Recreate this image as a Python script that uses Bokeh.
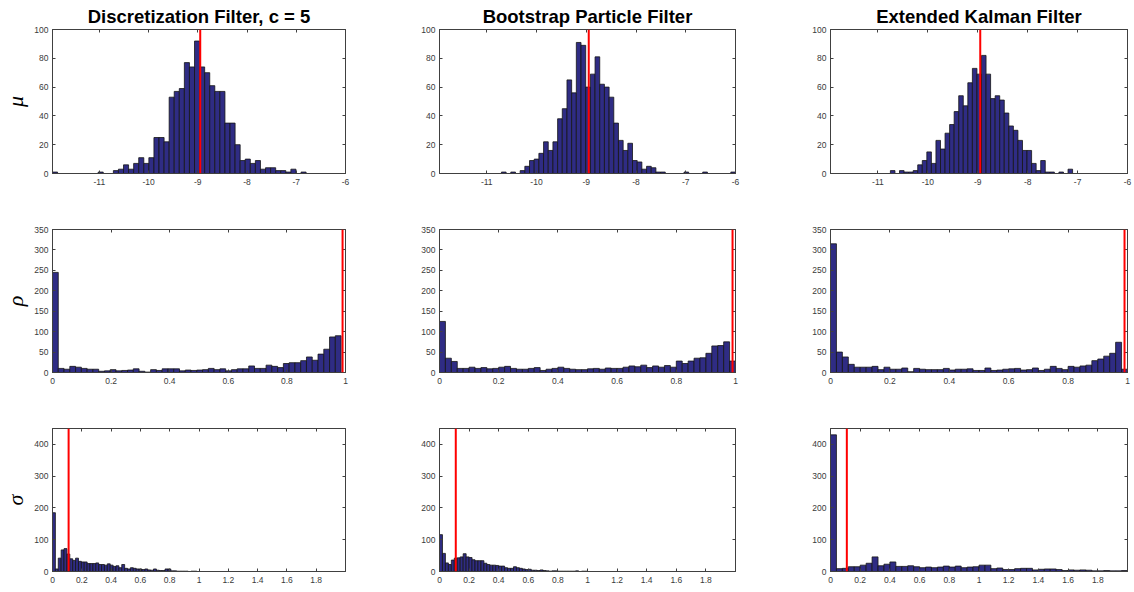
import numpy as np
from bokeh.plotting import figure
from bokeh.layouts import row, column
from bokeh.models import Range1d, FixedTicker, LinearAxis, Span, Title, CustomJSTickFormatter
from bokeh.embed import file_html
from bokeh.resources import INLINE

# ---------------- data ----------------
titles = ["Discretization Filter, c = 5", "Bootstrap Particle Filter", "Extended Kalman Filter"]
param_labels = ["μ", "ρ", "σ"]
true_values = [-8.95, 0.99, 0.11]

x_limits = [(-11.95, -6.0), (0.0, 1.0), (0.0, 2.0)]
y_limits = [(0, 100), (0, 350), (0, 450)]
x_ticks = [[-11, -10, -9, -8, -7, -6],
           [0, 0.2, 0.4, 0.6, 0.8, 1],
           [0, 0.2, 0.4, 0.6, 0.8, 1, 1.2, 1.4, 1.6, 1.8]]
x_tick_labels = [["-11", "-10", "-9", "-8", "-7", "-6"],
                 ["0", "0.2", "0.4", "0.6", "0.8", "1"],
                 ["0", "0.2", "0.4", "0.6", "0.8", "1", "1.2", "1.4", "1.6", "1.8"]]
y_ticks = [[0, 20, 40, 60, 80, 100],
           [0, 50, 100, 150, 200, 250, 300, 350],
           [0, 100, 200, 300, 400]]

# histogram ranges (min, max of samples) and bin counts
mu_df_range = (-11.95, -6.80)
mu_df_counts = [1, 0, 0, 0, 0, 0, 0, 0, 0, 1, 0, 0, 2, 3, 6, 3, 7, 11, 7, 11,
                25, 25, 22, 53, 57, 59, 77, 74, 92, 74, 70, 61, 57, 57, 35, 35, 20, 9, 10, 7,
                9, 3, 4, 4, 2, 2, 1, 3, 0, 1]
mu_pf_range = (-10.705, -6.0)
mu_pf_counts = [1, 0, 1, 0, 2, 5, 9, 10, 14, 22, 16, 22, 38, 45, 65, 56, 91, 89, 60, 69,
                81, 62, 60, 53, 35, 23, 16, 21, 9, 8, 3, 5, 4, 1, 1, 0, 0, 0, 0, 1,
                0, 0, 0, 1, 0, 0, 0, 0, 0, 1]
mu_ekf_range = (-10.75, -7.10)
mu_ekf_counts = [2, 0, 2, 1, 1, 2, 6, 9, 15, 7, 23, 17, 28, 34, 43, 54, 47, 63, 73, 69,
                 82, 69, 52, 54, 51, 42, 33, 30, 23, 16, 16, 7, 2, 9, 1, 1, 0, 1, 0, 3]

rho_df_range = (0.0, 0.985)
rho_df_counts = [245, 10, 8, 15, 13, 10, 8, 8, 3, 4, 7, 4, 5, 6, 9, 3, 1, 7, 5, 9,
                 9, 9, 4, 6, 5, 6, 7, 10, 7, 9, 4, 7, 9, 9, 16, 10, 10, 18, 15, 12,
                 22, 24, 24, 29, 38, 30, 45, 57, 87, 90]
rho_pf_range = (0.0, 1.0)
rho_pf_counts = [125, 35, 27, 10, 10, 13, 10, 12, 9, 10, 13, 15, 10, 8, 8, 10, 12, 5, 8, 10,
                 13, 10, 8, 7, 7, 9, 10, 8, 11, 10, 10, 13, 16, 14, 18, 12, 16, 13, 17, 13,
                 28, 22, 28, 35, 36, 47, 65, 66, 75, 28]
rho_ekf_range = (0.0, 1.0)
rho_ekf_counts = [315, 50, 38, 20, 13, 13, 13, 15, 7, 13, 8, 8, 11, 2, 10, 8, 7, 7, 7, 10,
                  6, 8, 8, 9, 5, 5, 11, 5, 6, 8, 9, 10, 6, 7, 11, 5, 8, 15, 10, 7,
                  15, 13, 16, 18, 29, 33, 40, 47, 74, 8]

sigma_df_range = (0.0, 0.985)
sigma_df_counts = [185, 8, 42, 68, 72, 55, 40, 35, 42, 32, 30, 30, 25, 25, 25, 27, 22, 22, 20, 24,
                   20, 16, 18, 12, 22, 10, 8, 12, 10, 8, 8, 6, 8, 5, 4, 8, 4, 3, 3, 8,
                   8, 2, 2, 1, 1, 1, 1, 0, 1, 1]
sigma_pf_range = (0.0, 1.0)
sigma_pf_counts = [116, 57, 27, 22, 36, 42, 43, 46, 56, 46, 44, 37, 34, 34, 34, 26, 22, 20, 20, 19,
                   17, 17, 12, 10, 10, 15, 12, 10, 8, 6, 7, 4, 4, 3, 5, 3, 2, 1, 2, 2,
                   1, 1, 1, 1, 1, 1, 2, 0, 1, 1]
sigma_ekf_range = (0.0, 2.0)
sigma_ekf_counts = [430, 9, 10, 15, 15, 20, 26, 46, 18, 23, 30, 16, 16, 18, 15, 12, 14, 12, 14, 17,
                    14, 17, 12, 14, 15, 20, 20, 9, 11, 6, 6, 9, 10, 10, 5, 7, 8, 8, 6, 3,
                    5, 4, 5, 4, 2, 2, 3, 2, 2, 3]

hist_ranges = [[mu_df_range, mu_pf_range, mu_ekf_range],
               [rho_df_range, rho_pf_range, rho_ekf_range],
               [sigma_df_range, sigma_pf_range, sigma_ekf_range]]
hist_counts = [[mu_df_counts, mu_pf_counts, mu_ekf_counts],
               [rho_df_counts, rho_pf_counts, rho_ekf_counts],
               [sigma_df_counts, sigma_pf_counts, sigma_ekf_counts]]

# ---------------- layout ----------------
col_widths = [380, 380, 374]
col_border_left = [48, 59, 70]
col_border_right = [35, 25, 7]
row_heights = [200, 200, 192]
row_border_top = [29, 29, 28]
row_border_bottom = [27, 28, 21]

AX_COLOR = "#404040"
TICK_FONT = "Liberation Sans"
BAR_FILL = "#2f2c84"
BAR_LINE = "#151515"


def blank_formatter():
    return CustomJSTickFormatter(code="return ''")


rows = []
for r in range(3):
    figs = []
    for c in range(3):
        p = figure(width=col_widths[c], height=row_heights[r],
                   x_range=Range1d(*x_limits[r]), y_range=Range1d(*y_limits[r]),
                   output_backend="svg", toolbar_location=None,
                   min_border_left=col_border_left[c], min_border_right=col_border_right[c],
                   min_border_top=row_border_top[r], min_border_bottom=row_border_bottom[r],
                   background_fill_color="white", border_fill_color="white")
        p.xgrid.visible = False
        p.ygrid.visible = False
        p.outline_line_color = AX_COLOR
        p.outline_line_width = 1

        lo, hi = hist_ranges[r][c]
        counts = np.array(hist_counts[r][c], dtype=float)
        edges = np.linspace(lo, hi, len(counts) + 1)
        p.quad(left=edges[:-1], right=edges[1:], bottom=0, top=counts,
               fill_color=BAR_FILL, line_color=BAR_LINE, line_width=0.8)

        p.add_layout(Span(location=true_values[r], dimension="height",
                          line_color="#ff0000", line_width=2))

        # bottom / left axes
        xa = p.xaxis[0]
        xa.ticker = FixedTicker(ticks=x_ticks[r])
        xa.major_label_overrides = {t: l for t, l in zip(x_ticks[r], x_tick_labels[r])}
        ya = p.yaxis[0]
        ya.ticker = FixedTicker(ticks=y_ticks[r])
        for ax in (xa, ya):
            ax.major_tick_in = 3
            ax.major_tick_out = 0
            ax.minor_tick_in = 0
            ax.minor_tick_out = 0
            ax.axis_line_color = AX_COLOR
            ax.major_tick_line_color = AX_COLOR
            ax.major_label_text_font = TICK_FONT
            ax.major_label_text_font_size = "8.5px"
            ax.major_label_text_color = "#3a3a3a"
        xa.major_label_standoff = 5
        ya.major_label_standoff = 4

        # mirrored ticks on top / right (MATLAB box)
        top_ax = LinearAxis(ticker=FixedTicker(ticks=x_ticks[r]), formatter=blank_formatter())
        right_ax = LinearAxis(ticker=FixedTicker(ticks=y_ticks[r]), formatter=blank_formatter())
        for ax in (top_ax, right_ax):
            ax.major_tick_in = 3
            ax.major_tick_out = 0
            ax.minor_tick_in = 0
            ax.minor_tick_out = 0
            ax.axis_line_color = AX_COLOR
            ax.major_tick_line_color = AX_COLOR
            ax.major_label_standoff = 0
            ax.major_label_text_font_size = "1px"
        p.add_layout(top_ax, "above")
        p.add_layout(right_ax, "right")

        if c == 0:
            ya.axis_label = param_labels[r]
            ya.axis_label_text_font = "Liberation Serif"
            ya.axis_label_text_font_style = "italic"
            ya.axis_label_text_font_size = "22px"
            ya.axis_label_text_color = "black"
            ya.axis_label_standoff = 3

        if r == 0:
            t = Title(text=titles[c], align="center", text_font="Liberation Sans",
                      text_font_style="bold", text_font_size="18.5px", text_color="black",
                      standoff=5, offset=0)
            p.add_layout(t, "above")

        figs.append(p)
    rows.append(row(*figs))

layout = column(*rows)

open("out.html", "w").write(file_html(layout, INLINE))
